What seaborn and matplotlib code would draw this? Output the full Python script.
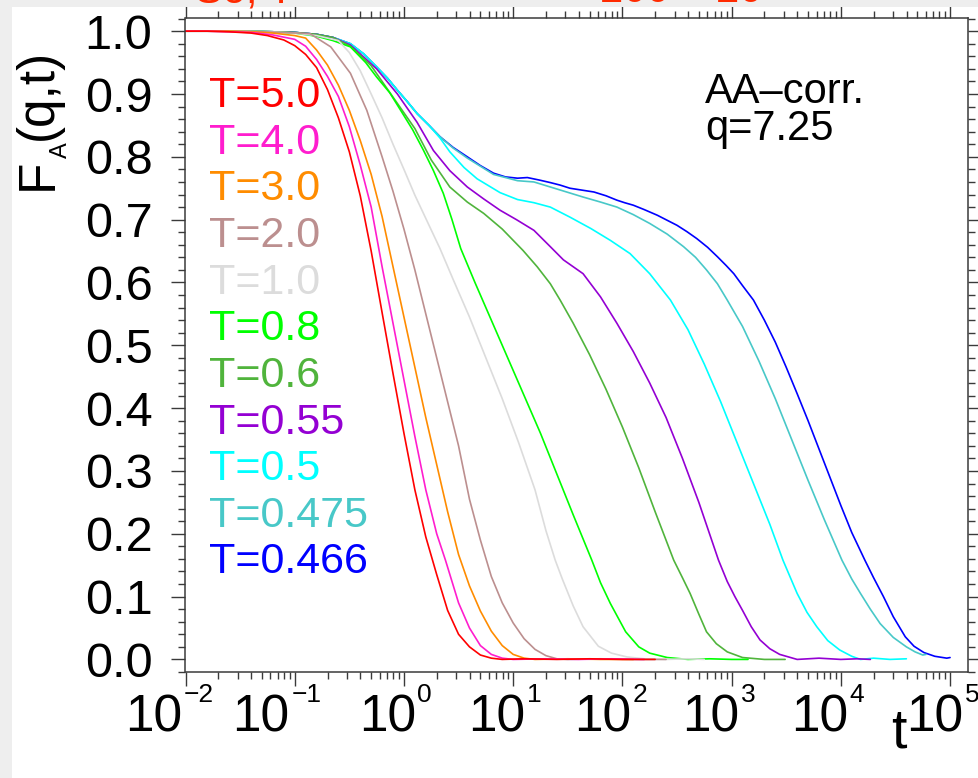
import numpy as np
import pandas as pd
import matplotlib
matplotlib.use("Agg")
import matplotlib.pyplot as plt
import matplotlib.transforms as mtransforms
import seaborn as sns
from matplotlib.ticker import LogLocator, MultipleLocator, FormatStrFormatter, NullFormatter
from matplotlib.patches import Rectangle

# ---- data: incoherent scattering function F_A(q,t), AA correlation, q = 7.25 ----
temps = ["5.0", "4.0", "3.0", "2.0", "1.0", "0.8", "0.6", "0.55", "0.5", "0.475", "0.466"]
colors = ["#ff0000", "#ff1dce", "#ff8c00", "#bc8f8f", "#dcdcdc", "#00ff00",
          "#50b43c", "#9400d3", "#00ffff", "#48c8c8", "#0000ff"]

# log10(t) and F values per temperature
logt_T5_0 = [-2, -1.8, -1.6, -1.4, -1.25, -1.1, -1.0, -0.9, -0.8, -0.7, -0.6, -0.5, -0.4,
             -0.3, -0.2, -0.1, 0.0, 0.1, 0.2, 0.3, 0.4, 0.5, 0.6, 0.7, 0.8, 0.9, 1.1, 1.4,
             1.7, 2.0, 2.3]
F_T5_0 = [1.0, 1.0, 0.999, 0.997, 0.993, 0.986, 0.977, 0.963, 0.942, 0.907, 0.862, 0.808,
          0.738, 0.650, 0.552, 0.455, 0.36, 0.27, 0.195, 0.135, 0.078, 0.04, 0.02, 0.007,
          0.002, 0.0, 0.001, 0.0, 0.001, 0.0, 0.0]

logt_T4_0 = [-2, -1.8, -1.6, -1.4, -1.2, -1.0, -0.9, -0.8, -0.7, -0.6, -0.5, -0.4, -0.3,
             -0.2, -0.1, 0.0, 0.1, 0.2, 0.3, 0.38, 0.5, 0.6, 0.7, 0.8, 0.9, 1.0, 1.3, 1.6,
             1.9, 2.2]
F_T4_0 = [1.0, 1.0, 0.999, 0.998, 0.994, 0.987, 0.976, 0.955, 0.928, 0.896, 0.848, 0.787,
          0.72, 0.625, 0.535, 0.445, 0.355, 0.27, 0.2, 0.158, 0.09, 0.05, 0.022, 0.008,
          0.002, 0.0, 0.001, 0.0, 0.001, 0.0]

logt_T3_0 = [-2, -1.6, -1.4, -1.2, -1.0, -0.9, -0.8, -0.7, -0.6, -0.5, -0.4, -0.3, -0.2,
             -0.1, 0.0, 0.1, 0.2, 0.3, 0.4, 0.5, 0.6, 0.7, 0.8, 0.9, 1.0, 1.1, 1.2, 1.5,
             1.8, 2.1]
F_T3_0 = [1.0, 1.0, 0.999, 0.997, 0.993, 0.989, 0.97, 0.946, 0.914, 0.874, 0.826, 0.772,
          0.705, 0.625, 0.545, 0.465, 0.385, 0.31, 0.235, 0.167, 0.117, 0.077, 0.045,
          0.022, 0.008, 0.002, 0.0, 0.001, 0.0, 0.0]

logt_T2_0 = [-2, -1.6, -1.3, -1.1, -0.86, -0.67, -0.49, -0.34, -0.2, -0.1, 0.0, 0.1, 0.2,
             0.3, 0.4, 0.5, 0.6, 0.7, 0.8, 0.9, 1.0, 1.1, 1.2, 1.3, 1.4, 1.5, 1.8, 2.1, 2.4]
F_T2_0 = [1.0, 1.0, 0.999, 0.998, 0.996, 0.975, 0.933, 0.874, 0.80, 0.745, 0.685, 0.62,
          0.55, 0.48, 0.41, 0.34, 0.255, 0.19, 0.132, 0.09, 0.058, 0.033, 0.016, 0.006,
          0.001, 0.0, 0.001, 0.0, 0.0]

logt_T1_0 = [-2, -1.5, -1.2, -1.0, -0.8, -0.6, -0.5, -0.4, -0.3, -0.2, -0.1, 0.0, 0.1, 0.2,
             0.33, 0.45, 0.6, 0.75, 0.9, 1.05, 1.2, 1.3, 1.385, 1.45, 1.55, 1.64, 1.78, 1.9,
             2.04, 2.2, 2.4, 2.6, 2.75]
F_T1_0 = [1.0, 1.0, 0.999, 0.997, 0.993, 0.985, 0.966, 0.937, 0.90, 0.862, 0.82, 0.78,
          0.739, 0.702, 0.654, 0.605, 0.545, 0.48, 0.415, 0.345, 0.27, 0.205, 0.158, 0.128,
          0.085, 0.052, 0.021, 0.01, 0.004, 0.001, 0.0, 0.001, 0.0]

logt_T0_8 = [-2, -1.5, -1.2, -1.0, -0.8, -0.65, -0.49, -0.35, -0.25, -0.13, -0.03, 0.08,
             0.18, 0.27, 0.36, 0.44, 0.52, 0.65, 0.8, 0.95, 1.1, 1.25, 1.4, 1.55, 1.72, 1.8,
             1.89, 2.03, 2.15, 2.25, 2.41, 2.6, 2.8, 3.0, 3.15]
F_T0_8 = [1.0, 1.0, 0.999, 0.997, 0.992, 0.985, 0.975, 0.95, 0.927, 0.902, 0.874, 0.843,
          0.81, 0.778, 0.742, 0.70, 0.654, 0.60, 0.54, 0.48, 0.42, 0.36, 0.295, 0.23,
          0.158, 0.122, 0.089, 0.044, 0.02, 0.01, 0.003, 0.0, 0.001, 0.0, 0.0]

logt_T0_6 = [-2, -1.5, -1.2, -1.0, -0.8, -0.65, -0.49, -0.3, -0.1, 0.1, 0.25, 0.42, 0.58,
             0.73, 0.9, 1.09, 1.22, 1.34, 1.43, 1.55, 1.7, 1.85, 2.0, 2.15, 2.3, 2.47, 2.55,
             2.62, 2.7, 2.77, 2.86, 2.96, 3.1, 3.3, 3.49]
F_T0_6 = [1.0, 1.0, 0.999, 0.998, 0.995, 0.99, 0.976, 0.945, 0.895, 0.845, 0.795, 0.752,
          0.728, 0.71, 0.685, 0.651, 0.625, 0.598, 0.572, 0.535, 0.485, 0.43, 0.37, 0.305,
          0.235, 0.158, 0.13, 0.105, 0.072, 0.044, 0.025, 0.012, 0.003, 0.0, 0.0]

logt_T0_55 = [-2, -1.5, -1.2, -1.0, -0.8, -0.65, -0.49, -0.25, -0.06, 0.12, 0.27, 0.42, 0.58,
              0.73, 0.88, 1.03, 1.19, 1.34, 1.46, 1.64, 1.8, 1.95, 2.1, 2.25, 2.4, 2.55, 2.7,
              2.88, 2.96, 3.03, 3.1, 3.18, 3.26, 3.35, 3.44, 3.6, 3.8, 4.0, 4.15, 4.27]
F_T0_55 = [1.0, 1.0, 0.999, 0.998, 0.995, 0.99, 0.978, 0.94, 0.90, 0.855, 0.81, 0.778,
           0.752, 0.733, 0.715, 0.70, 0.683, 0.657, 0.636, 0.614, 0.577, 0.535, 0.49, 0.44,
           0.385, 0.32, 0.25, 0.158, 0.124, 0.10, 0.078, 0.052, 0.031, 0.017, 0.008, 0.0,
           0.002, 0.0, 0.001, 0.0]

logt_T0_5 = [-2, -1.5, -1.2, -1.0, -0.8, -0.65, -0.49, -0.37, -0.25, -0.15, -0.06, 0.03,
             0.12, 0.23, 0.33, 0.42, 0.55, 0.67, 0.88, 1.04, 1.19, 1.34, 1.52, 1.71, 1.89,
             2.07, 2.25, 2.44, 2.6, 2.75, 2.9, 3.05, 3.2, 3.35, 3.47, 3.6, 3.69, 3.78, 3.88,
             3.99, 4.1, 4.18, 4.3, 4.45, 4.6]
F_T0_5 = [1.0, 1.0, 0.999, 0.998, 0.995, 0.99, 0.98, 0.964, 0.943, 0.925, 0.906, 0.888,
          0.869, 0.85, 0.83, 0.808, 0.783, 0.765, 0.743, 0.732, 0.727, 0.72, 0.704, 0.686,
          0.667, 0.646, 0.614, 0.572, 0.525, 0.47, 0.41, 0.345, 0.28, 0.215, 0.158, 0.105,
          0.075, 0.052, 0.03, 0.015, 0.005, 0.0, 0.002, 0.0, 0.001]

logt_T0_475 = [-2, -1.5, -1.2, -1.0, -0.8, -0.65, -0.49, -0.37, -0.25, -0.15, -0.06, 0.03,
               0.12, 0.23, 0.33, 0.45, 0.58, 0.82, 1.04, 1.19, 1.34, 1.49, 1.64, 1.8, 1.95,
               2.1, 2.25, 2.41, 2.56, 2.67, 2.77, 2.87, 2.96, 3.1, 3.25, 3.4, 3.55, 3.7,
               3.85, 4.01, 4.1, 4.18, 4.27, 4.36, 4.48, 4.6, 4.68, 4.75, 4.78]
F_T0_475 = [1.0, 1.0, 0.999, 0.998, 0.995, 0.99, 0.98, 0.964, 0.943, 0.925, 0.906, 0.888,
            0.869, 0.85, 0.832, 0.814, 0.798, 0.772, 0.762, 0.76, 0.752, 0.744, 0.736,
            0.728, 0.72, 0.708, 0.694, 0.677, 0.657, 0.64, 0.62, 0.598, 0.572, 0.53, 0.475,
            0.415, 0.35, 0.285, 0.222, 0.158, 0.128, 0.105, 0.08, 0.057, 0.035, 0.02,
            0.012, 0.007, 0.008]

logt_T0_466 = [-2, -1.5, -1.2, -1.0, -0.8, -0.65, -0.49, -0.37, -0.25, -0.15, -0.06, 0.03,
               0.12, 0.23, 0.33, 0.45, 0.58, 0.7, 0.82, 0.93, 1.04, 1.13, 1.24, 1.34, 1.43,
               1.52, 1.63, 1.74, 1.85, 1.95, 2.02, 2.1, 2.2, 2.32, 2.41, 2.5, 2.59, 2.68,
               2.78, 2.87, 2.95, 3.02, 3.1, 3.2, 3.3, 3.4, 3.5, 3.6, 3.7, 3.8, 3.9, 4.0, 4.1,
               4.22, 4.3, 4.39, 4.48, 4.59, 4.67, 4.76, 4.86, 4.97, 5.0]
F_T0_466 = [1.0, 1.0, 0.999, 0.998, 0.995, 0.99, 0.98, 0.964, 0.943, 0.925, 0.906, 0.888,
            0.869, 0.85, 0.832, 0.815, 0.80, 0.786, 0.774, 0.768, 0.766, 0.767, 0.763, 0.759,
            0.755, 0.75, 0.747, 0.744, 0.738, 0.731, 0.727, 0.723, 0.716, 0.707, 0.699,
            0.691, 0.681, 0.67, 0.656, 0.641, 0.627, 0.614, 0.595, 0.572, 0.54, 0.505,
            0.465, 0.423, 0.38, 0.335, 0.29, 0.245, 0.202, 0.158, 0.13, 0.10, 0.068, 0.036,
            0.021, 0.011, 0.005, 0.002, 0.003]

series_logt = [logt_T5_0, logt_T4_0, logt_T3_0, logt_T2_0, logt_T1_0, logt_T0_8,
               logt_T0_6, logt_T0_55, logt_T0_5, logt_T0_475, logt_T0_466]
series_F = [F_T5_0, F_T4_0, F_T3_0, F_T2_0, F_T1_0, F_T0_8,
            F_T0_6, F_T0_55, F_T0_5, F_T0_475, F_T0_466]

# decade tick labels on the time axis
decades = [-2, -1, 0, 1, 2, 3, 4, 5]

frames = []
for T, lt, fv in zip(temps, series_logt, series_F):
    frames.append(pd.DataFrame({"t": 10.0 ** np.asarray(lt, dtype=float),
                                "F": np.asarray(fv, dtype=float), "T": T}))
df = pd.concat(frames, ignore_index=True)

# ---- style ----
sns.set_theme(style="ticks")
plt.rcParams["font.family"] = ["Liberation Sans", "DejaVu Sans"]
plt.rcParams["mathtext.fontset"] = "custom"
plt.rcParams["mathtext.rm"] = "Liberation Sans"
plt.rcParams["mathtext.it"] = "Liberation Sans:italic"
plt.rcParams["mathtext.default"] = "regular"
plt.rcParams["text.color"] = "black"
plt.rcParams["xtick.labelcolor"] = "black"
plt.rcParams["ytick.labelcolor"] = "black"

W, H = 979, 778
fig = plt.figure(figsize=(W / 100, H / 100), dpi=100, facecolor="white")
ax_l, ax_r, ax_t, ax_b = 185.5, 968.3, 18.3, 672.3
ax = fig.add_axes([ax_l / W, 1 - ax_b / H, (ax_r - ax_l) / W, (ax_b - ax_t) / H])
ax.set_facecolor("white")

palette = dict(zip(temps, colors))
sns.lineplot(data=df, x="t", y="F", hue="T", hue_order=temps[::-1], palette=palette,
             estimator=None, sort=False, legend=False, linewidth=1.2, ax=ax)

ax.set_xscale("log")
ax.set_xlim(1e-2, 10 ** 5.167)
ax.set_ylim(-0.0205, 1.0205)
ax.set_xlabel("")
ax.set_ylabel("")

ax.xaxis.set_major_locator(LogLocator(base=10, numticks=20))
ax.xaxis.set_minor_locator(LogLocator(base=10, subs=np.arange(2, 10), numticks=100))
ax.xaxis.set_minor_formatter(NullFormatter())
ax.yaxis.set_major_locator(MultipleLocator(0.1))
ax.yaxis.set_minor_locator(MultipleLocator(0.02))
ax.yaxis.set_major_formatter(FormatStrFormatter("%.1f"))

spine_c = "#3a3a3a"
for s in ax.spines.values():
    s.set_visible(True)
    s.set_color(spine_c)
    s.set_linewidth(1.1)
ax.tick_params(which="both", direction="out", top=True, right=True,
               labeltop=False, labelright=False, labelbottom=False,
               color=spine_c, width=1.0)
ax.tick_params(which="major", length=9.8)
ax.tick_params(which="minor", length=5.0)
ax.tick_params(axis="y", which="major", labelsize=35, pad=14)

# decade labels: "10" with a small raised exponent
base_tr = mtransforms.blended_transform_factory(ax.transData, ax.transAxes)
ten_dx = {-2: -3, -1: -5, 0: 12, 1: 12, 2: 9, 3: 8, 4: 7, 5: 13}
for k in decades:
    tr_ten = mtransforms.offset_copy(base_tr, fig=fig, x=ten_dx[k], y=-59.4, units="dots")
    ax.text(10.0 ** k, 0, "10", transform=tr_ten, ha="right", va="baseline",
            fontsize=37, clip_on=False)
    tr_exp = mtransforms.offset_copy(base_tr, fig=fig, x=ten_dx[k] + 1.5, y=-30.0,
                                     units="dots")
    ax.text(10.0 ** k, 0, str(k).replace("-", "\u2212"), transform=tr_exp, ha="left",
            va="baseline", fontsize=19, clip_on=False)

# axis labels: F_A(q,t) written upward, t at the lower right
ylab = [("F", 52, 190, 37), ("A", 67, 158.5, 17), ("(q,t)", 52, 140, 37)]
for s, bx, by, fs in ylab:
    fig.text(bx / W, 1 - by / H, s, rotation=90, rotation_mode="anchor",
             ha="left", va="baseline", fontsize=fs)
fig.text(899 / W, 1 - 748 / H, "t", ha="center", va="baseline", fontsize=40)

# temperature labels
for i, (T, c) in enumerate(zip(temps, colors)):
    fig.text(209 / W, 1 - (107.3 + 46.6 * i) / H, "T=" + T, color=c, fontsize=31,
             ha="left", va="baseline")

fig.text(705 / W, 1 - 103 / H, "AA\u2013corr.", fontsize=30, ha="left", va="baseline")
fig.text(705 / W, 1 - 140 / H, "q=7.25", fontsize=30, ha="left", va="baseline")

# page margin strips
fig.add_artist(Rectangle((0, 0), 12 / W, 1, transform=fig.transFigure,
                         facecolor="#eeeeee", edgecolor="none", zorder=10))
fig.add_artist(Rectangle((0, 1 - 7 / H), 1, 7 / H, transform=fig.transFigure,
                         facecolor="#eeeeee", edgecolor="none", zorder=10))
fig.text(195 / W, 1 - 2 / H, "So, T", color="#ff2a00", fontsize=30, ha="left",
         va="baseline", zorder=11)
fig.text(600 / W, 1 - 2 / H, "200 \u2013 20", color="#ff2a00", fontsize=30, ha="left",
         va="baseline", zorder=11)

fig.savefig("out.png", dpi=100, facecolor="white")
